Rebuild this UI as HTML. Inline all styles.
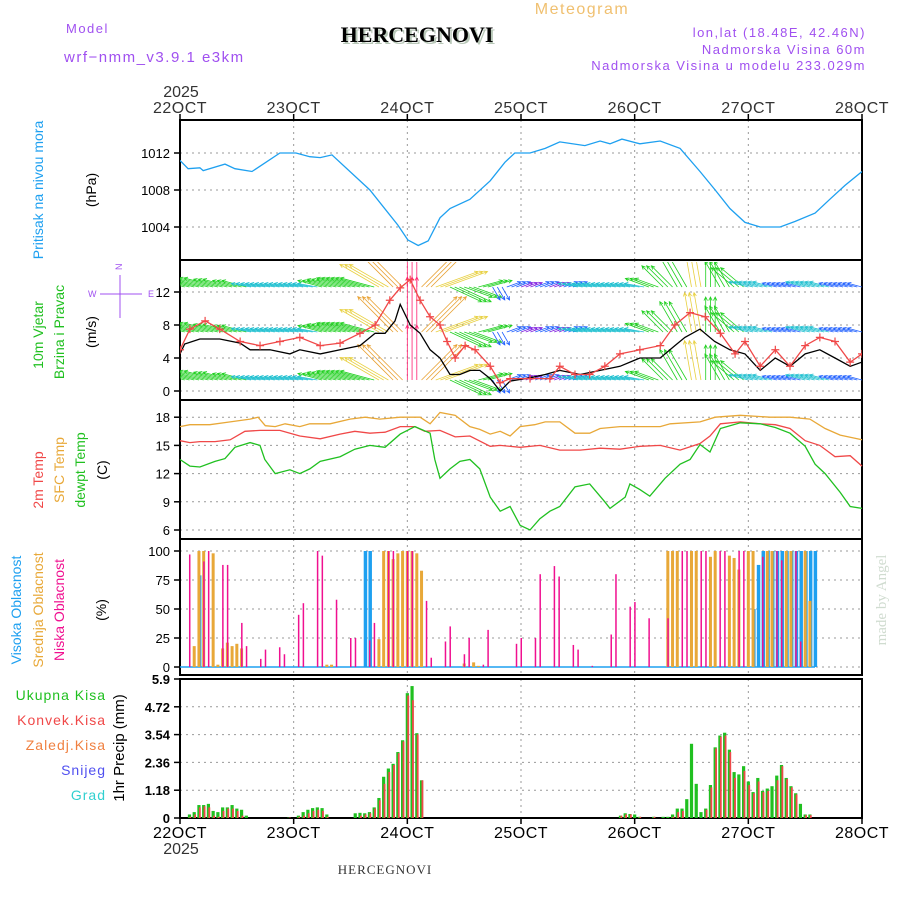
<!DOCTYPE html>
<html><head><meta charset="utf-8"><title>Meteogram HERCEGNOVI</title>
<style>
html,body{margin:0;padding:0;background:#fff;}
svg{display:block;font-family:"Liberation Sans",sans-serif;}
.t{font-size:13px;letter-spacing:1.5px;}
.tk{font-size:13px;fill:#000;}
</style></head>
<body>
<svg id="chart" width="900" height="900" viewBox="0 0 900 900" xmlns="http://www.w3.org/2000/svg">
<defs>
<clipPath id="cw"><rect x="180" y="262" width="682" height="138"/></clipPath>
<clipPath id="cp"><rect x="180" y="120" width="682" height="140"/></clipPath>
</defs>
<g>
<text class="t" x="66" y="33" fill="#a050f0">Model</text>
<text class="t" x="64" y="62" fill="#a050f0" style="font-size:15px">wrf−nmm_v3.9.1 e3km</text>
<text x="419" y="44" text-anchor="middle" fill="#b8c8b8" style="font-family:'Liberation Serif',serif;font-weight:bold;font-size:22px">HERCEGNOVI</text>
<text x="417" y="42" text-anchor="middle" fill="#000" style="font-family:'Liberation Serif',serif;font-weight:bold;font-size:22px">HERCEGNOVI</text>
<text class="t" x="582" y="14" text-anchor="middle" fill="#f0c070" style="font-size:16px">Meteogram</text>
<text class="t" x="866" y="37" text-anchor="end" fill="#a050f0">lon,lat (18.48E, 42.46N)</text>
<text class="t" x="866" y="54" text-anchor="end" fill="#a050f0">Nadmorska Visina 60m</text>
<text class="t" x="866" y="70" text-anchor="end" fill="#a050f0">Nadmorska Visina u modelu 233.029m</text>
</g>
<g style="font-size:14px">
<text transform="translate(43,190) rotate(-90)" text-anchor="middle" fill="#1ea0f0">Pritisak na nivou mora</text>
<text transform="translate(96,190) rotate(-90)" text-anchor="middle" fill="#000">(hPa)</text>
<text transform="translate(43,335) rotate(-90)" text-anchor="middle" fill="#20c020">10m Vjetar</text>
<text transform="translate(64,332) rotate(-90)" text-anchor="middle" fill="#20c020">Brzina i Pravac</text>
<text transform="translate(96,332) rotate(-90)" text-anchor="middle" fill="#000">(m/s)</text>
<text transform="translate(43,480) rotate(-90)" text-anchor="middle" fill="#f04848">2m Temp</text>
<text transform="translate(64,470) rotate(-90)" text-anchor="middle" fill="#e8a838">SFC Temp</text>
<text transform="translate(85,470) rotate(-90)" text-anchor="middle" fill="#20c020">dewpt Temp</text>
<text transform="translate(107,470) rotate(-90)" text-anchor="middle" fill="#000">(C)</text>
<text transform="translate(21,610) rotate(-90)" text-anchor="middle" fill="#1ea0f0">Visoka Oblacnost</text>
<text transform="translate(43,610) rotate(-90)" text-anchor="middle" fill="#e8a838">Srednja Oblacnost</text>
<text transform="translate(64,610) rotate(-90)" text-anchor="middle" fill="#f01090">Niska Oblacnost</text>
<text transform="translate(106,610) rotate(-90)" text-anchor="middle" fill="#000">(%)</text>
<text transform="translate(124,748) rotate(-90)" text-anchor="middle" fill="#000" style="font-size:15px">1hr Precip (mm)</text>
<g style="font-size:14px;letter-spacing:1px" text-anchor="end">
<text x="106" y="700" fill="#20c020">Ukupna Kisa</text>
<text x="106" y="725" fill="#f04848">Konvek.Kisa</text>
<text x="106" y="750" fill="#f08040">Zaledj.Kisa</text>
<text x="106" y="775" fill="#5050f0">Snijeg</text>
<text x="106" y="800" fill="#30d0d0">Grad</text>
</g>
<g fill="#a050f0" stroke="#a050f0" style="font-size:9px">
<text x="122" y="270" stroke="none" transform="rotate(-90 122 270)">N</text>
<text x="88" y="297" stroke="none">W</text>
<text x="148" y="297" stroke="none">E</text>
<line x1="100" y1="294" x2="142" y2="294" stroke-width="1"/>
<line x1="120" y1="275" x2="120" y2="318" stroke-width="1"/>
</g>
<text transform="translate(886,600) rotate(-90)" text-anchor="middle" fill="#d0dcd0" style="font-family:'Liberation Serif',serif;font-size:15px">made by Angel</text>
<text x="385" y="874" text-anchor="middle" fill="#333" style="font-family:'Liberation Serif',serif;font-size:13px;letter-spacing:1px">HERCEGNOVI</text>
</g>
<g id="plots"></g>
</svg>
<script>
// ---- data (hours from 22 Oct 00 UTC) ----
const dayLabels=["22OCT","23OCT","24OCT","25OCT","26OCT","27OCT","28OCT"];
const pressTicks=[1004,1008,1012];
const windTicks=[0,4,8,12];
const tempTicks=[6,9,12,15,18];
const cloudTicks=[0,25,50,75,100];
const precipTicks=[0,1.18,2.36,3.54,4.72,5.9];

const pressHours=[0,1.7,4.2,4.9,9.5,11.6,15.2,21.1,24.5,27.4,29.6,32.1,40.1,46,48.1,50.3,52.4,54.9,57,61.2,65.5,68.6,70.7,73.9,77.1,80.2,85.5,88.7,90.8,93.3,97.1,101.4,105.6,109.8,113,116.1,119.3,122.5,126.7,129.9,134.1,137.2,140.4,144];
const pressVals=[1011.2,1010.3,1010.4,1010.1,1010.8,1010.3,1010.0,1012,1012,1011.6,1011.5,1011.8,1008,1004.2,1002.6,1002.0,1002.5,1005,1006,1007,1009,1011,1012,1012,1012.5,1013.2,1012.8,1013.3,1013,1013.5,1013,1013.3,1012.5,1010,1008,1006,1004.5,1004,1004,1004.6,1005.5,1007,1008.5,1010];

const gustHours=[0,2.1,5.3,8.4,12.7,16.9,21.1,25.3,29.6,33.8,38,41.2,44.3,46.5,48.6,50.7,52.8,54.9,56.4,58.1,60.2,62.3,65.5,67.6,69.7,73.9,78.1,80.2,83.4,86.5,89.7,92.9,97.1,101.4,104.5,107.7,110.9,114.1,117.2,119.3,122.5,125.7,128.8,132,135.1,138.3,141.5,144];
const gustVals=[5,7.5,8.5,7.5,6,5.5,6,6.5,5.5,5.8,7,8,11,12.5,13.5,11,9,8,6,4,5.5,5,3,1,1.5,1.5,1.5,3,2,2,3,4.5,5,5.5,8,9.5,9,7,4.5,6,3,5,3,5.5,6.5,6,3.5,4.5];
const speedHours=[0,1,4.2,8.4,12.7,14.8,19,23.2,25.3,29.6,33.8,38,41.2,43.3,45.4,46.5,48.6,50.7,52.8,54.9,57,59.1,61.2,63.3,65.5,67.6,69.7,73.9,77.1,80.2,84.5,88.7,92.9,97.1,101.4,104.5,106.6,109.8,112.9,116.1,119.3,122.5,125.7,128.8,132,135.1,138.3,141.5,144];
const speedVals=[4.5,5.7,6.3,6.3,5.8,5,5,4.5,5,4.5,5,5.5,7,7,8.5,10.5,8,7,5,4,2,2,2.5,2.5,1.5,0,1.2,1.6,2,2.5,2,2.5,3,4,4,5.5,6.5,7.5,6,5,4.5,2.5,4,3,4.5,5,4,3,3.5];

const windHours=[0,3,6,9,12,15,18,21,24,27,30,33,36,39,42,45,48,51,54,57,60,63,66,69,72,75,78,81,84,87,90,93,96,99,102,105,108,111,114,117,120,123,126,129,132,135,138,141,144];
const windDir=[165,165,165,165,165,170,170,170,170,170,165,165,165,165,150,135,90,45,20,-25,-20,15,-60,20,20,20,20,20,170,170,170,170,170,160,135,120,100,90,120,140,165,165,165,165,165,165,165,165,165];
const windSpd=[7,7,7,6,5,4,4,4,4,4,5,6,7,7,9,10,11,10,9,7,6,5,3,3,2.5,3,2.5,3,4,4,4,4,4,5,6,7,8,7,6,6,4,4,3,3,4,4,3,3,3];

const tHours=[0,2.1,4.2,7.4,10.6,13.7,16.9,21.1,25.3,29.6,33.8,36.9,40.1,43.3,46.5,49.6,51.7,54.9,58.1,61.2,65.5,67.6,71.8,76,80.2,84.5,88.7,92.9,97.1,101.4,105.6,109.8,111.9,114.1,118.3,122.5,125.7,128.8,132,135.1,138.3,141.5,144];
const temp2m=[15.5,15.3,15.4,15.4,15.6,16.5,16.6,16.6,16,15.7,16.2,16.5,16.3,16.4,17,17,16.5,16.6,15.9,16,14.9,15,14.8,15,14.5,14.5,14.7,14.6,14.9,15,14.5,15.2,16,17.3,17.5,17.3,17.2,16.8,15.5,15,13.8,13.9,12.8];
const sfcHours=[0,2.1,6.3,10.6,14.8,16.5,18,20.1,22.2,25.3,27.4,31.7,35.9,39.1,42.2,46.5,50.7,52.8,54.9,58.1,61.2,63.3,65.5,67.6,69.7,71.8,74.9,77.1,80.2,83.4,86.5,88.7,92.9,97.1,101.4,103.5,109.8,113,118.3,124.6,128.8,133,136.2,139.4,144];
const sfcTemp=[17,17.2,17.2,17.5,17.8,18,17.1,17,17.3,17,17.3,17.3,17.8,18,17.8,18,18,17.3,18.5,18.2,17,16.7,16.2,16.5,16,17,17.2,17.5,17.5,16.3,16.3,16.8,17,17,17,17.3,17.5,18,18.2,18,18,17.8,16.8,16.1,15.6];
const dewHours=[0,2.1,4.2,7.4,9.5,11.6,14.8,16.9,17.9,20.1,23.2,25.3,27.4,29.6,33.8,36.9,40.1,43.3,46.5,49.6,52.8,53.8,54.9,57,59.1,61.2,63.3,65.5,67.6,69.7,71.8,73.9,76,78.1,80.2,83.4,86.5,89.7,90.8,94,95,97.1,99.2,102.4,105.6,107.7,109.8,111.9,114.1,118.3,122.5,125.7,128.8,132,134.1,136.2,139.4,141.5,144];
const dewTemp=[13.5,12.8,12.7,13.3,13.6,14.8,15.3,15,13.5,12,12.4,12,12.5,13.3,13.8,14.6,15,14.8,16.2,17,16.3,13.5,11.5,12.5,13.3,13.5,12.5,9.5,8,8.5,6.5,6,7.2,8,8.5,10.6,10.9,9,8.3,9.5,10.9,10.3,9.6,11.5,13,13.5,15.1,14.3,16.8,17.4,17.3,16.9,16.3,14.9,13,12,10,8.5,8.3];

const lowHours=[2,5,6,9,10,13,14,17,18,21,22,25,26,29,30,33,36,37,40,41,44,45,48,49,52,53,56,57,60,61,64,65,71,72,75,76,79,80,83,84,87,91,92,95,96,99,103,106,107,110,111,114,115,118,119,123,126,127,130,131];
const lowVals=[97,91,100,88,88,38,18,7,15,17,11,45,55,100,96,58,25,25,23,38,100,100,100,100,57,8,22,35,11,25,2,32,20,25,25,80,87,78,19,15,1,28,80,52,56,42,42,100,100,100,100,100,100,100,100,95,100,92,100,22];
const midHours=[3,4,5,7,8,9,10,11,12,13,31,32,42,43,44,45,46,47,48,49,50,51,60,62,63,103,104,105,108,109,112,113,116,117,118,120,121,124,125,128,129,132,133];
const midVals=[18,100,100,98,2,16,21,18,20,16,2,2,24,100,100,93,98,100,100,100,98,83,3,4,1,100,100,100,100,100,95,100,96,94,84,100,100,100,100,100,100,100,57];
const highHours=[4,39,40,121,122,123,124,125,126,127,128,129,130,131,132,133,134];
const highVals=[79,100,100,50,88,100,100,100,100,100,100,100,100,100,100,100,100];

const precipHours=[2,3,4,5,6,7,8,9,10,11,12,13,14,23,25,26,27,28,29,30,31,37,38,39,40,41,42,43,44,45,46,47,48,49,50,51,93,94,95,96,97,100,102,103,104,105,106,107,108,109,110,111,112,113,114,115,116,117,118,119,120,121,122,123,124,125,126,127,128,129,130,131,132,133];
const totalPrecip=[0.15,0.25,0.55,0.55,0.6,0.3,0.25,0.45,0.45,0.55,0.4,0.35,0.1,0.02,0.1,0.25,0.35,0.42,0.45,0.42,0.15,0.2,0.22,0.2,0.25,0.45,0.85,1.75,2.1,2.3,2.8,3.3,5.3,5.6,3.6,1.6,0.1,0.2,0.17,0.15,0.05,0.05,0.05,0.05,0.15,0.4,0.4,0.8,3.15,1.45,0.25,0.4,1.4,3.0,3.5,3.62,2.9,1.95,1.85,2.2,1.55,1.1,1.7,1.15,1.25,1.35,1.8,2.25,1.7,1.35,1.05,0.6,0.15,0.15];
const convPrecip=[0.05,0.15,0.45,0.5,0.45,0.1,0.05,0.3,0.4,0.4,0.3,0.1,0,0.02,0.05,0.1,0.2,0.3,0.35,0.3,0.05,0,0.1,0.15,0.2,0.4,0.75,1.45,1.95,2.25,2.75,3.25,5.2,5.0,3.55,1.6,0.1,0.15,0.15,0,0.05,0.05,0,0,0.05,0.25,0.3,0,0,0,0,0.35,1.3,2.95,3.45,3.5,2.8,1.7,0,2.0,1.4,1.05,1.55,1.1,1.15,0,1.6,2.2,1.65,1.3,1.0,0,0.12,0.12];

// ---- layout helpers ----
const X0=180,X1=862;
const xh=h=>X0+h*(X1-X0)/144;
const yP=v=>153+(1012-v)*9.25;
const yW=v=>391-v*8.25;
const yT=v=>530-(v-6)*9.4;
const yC=v=>667-v*1.16;
const yR=v=>818-v*(139/5.9);
const NS="http://www.w3.org/2000/svg";
const root=document.getElementById('plots');
function mk(tag,attrs,parent){const e=document.createElementNS(NS,tag);for(const k in attrs)e.setAttribute(k,attrs[k]);(parent||root).appendChild(e);return e;}

const panels=[{n:'pressure',y0:120,y1:260,ticks:pressTicks,f:yP},{n:'wind',y0:260,y1:400,ticks:windTicks,f:yW},{n:'temperature',y0:400,y1:539,ticks:tempTicks,f:yT},{n:'cloud',y0:539,y1:675,ticks:cloudTicks,f:yC},{n:'precip',y0:679,y1:818,ticks:precipTicks,f:yR}];
panels.forEach(p=>{
  const g=mk('g',{});
  
  
  for(let d=1;d<6;d++){const l=mk('line',{x1:xh(d*24),x2:xh(d*24),y1:p.y0,y2:p.y1,stroke:'#999','stroke-dasharray':'2,4','stroke-width':1},g);
    }
  p.ticks.forEach(t=>{const y=p.f(t);
    const l=mk('line',{x1:X0,x2:X1,y1:y,y2:y,stroke:'#999','stroke-dasharray':'2,4','stroke-width':1},g);
    
    mk('line',{x1:X0-6,x2:X0,y1:y,y2:y,stroke:'#000','stroke-width':1.5},g);
    const tx=mk('text',{x:X0-10,y:y+5,'text-anchor':'end',class:'tk',style:p.n==='precip'?'font-weight:bold':''},g);
    tx.textContent=String(t);
    
  });
  const r=mk('rect',{x:X0,y:p.y0,width:X1-X0,height:p.y1-p.y0,fill:'none',stroke:'#000','stroke-width':2},g);
  
});
// x tick labels
dayLabels.forEach((d,i)=>{
  [[113,120],[838,818]].forEach(([ty,ay])=>{
    const t=mk('text',{x:xh(i*24),y:ty,'text-anchor':'middle',style:'font-size:16px;letter-spacing:0.5px',fill:ty>800?'#000':'#333'});
    t.textContent=d;
    mk('line',{x1:xh(i*24),x2:xh(i*24),y1:ay-(ty>800?-1:6),y2:ay+(ty>800?6:0),stroke:'#000','stroke-width':1.5});
  });
});
[[97],[854]].forEach(([y])=>{const t=mk('text',{x:181,y:y,'text-anchor':'middle',style:'font-size:16px',fill:'#333'});t.textContent='2025';
  });

function line(hs,vs,f,color,name,clip){
  const d=hs.map((h,i)=>(i?'L':'M')+xh(h).toFixed(1)+','+f(vs[i]).toFixed(1)).join('');
  const e=mk('path',{d:d,fill:'none',stroke:color,'stroke-width':1.3});
  if(clip)e.setAttribute('clip-path',clip);
  
  return e;
}
line(pressHours,pressVals,yP,'#1ea0f0','pressure-line','url(#cp)');

// wind arrows (one arrow per hour within each 3-hour record)
function wcol(s){return s<3?'#8020e0':s<4?'#2060ff':s<5?'#20c0d0':s<8?'#20d020':s<10?'#e8d040':s<11?'#e8a030':'#ff2070';}
const wg=mk('g',{'clip-path':'url(#cw)'});

[287,332,380].forEach(by=>{
  windHours.forEach((h,i)=>{
    for(let k=0;k<3;k++){
      if(h+k>144)break;
      const a=windDir[i]*Math.PI/180,L=windSpd[i]*5,x=xh(h+k);
      const x2=x+L*Math.cos(a),y2=by-L*Math.sin(a),c=wcol(windSpd[i]);
      const ar=mk('path',{d:`M${x},${by}L${x2},${y2}M${x2-4*Math.cos(a-0.45)},${y2+4*Math.sin(a-0.45)}L${x2},${y2}L${x2-4*Math.cos(a+0.45)},${y2+4*Math.sin(a+0.45)}`,stroke:c,fill:'none','stroke-width':0.8},wg);
      
    }
  });
});
line(speedHours,speedVals,yW,'#000','wind-speed-line','url(#cw)');
line(gustHours,gustVals,yW,'#f04848','wind-gust-line','url(#cw)');
gustHours.forEach((h,i)=>{const x=xh(h),y=yW(gustVals[i]);
  const m=mk('path',{d:`M${x-4},${y}h8M${x},${y-4}v8`,stroke:'#f04848','stroke-width':1.2,'clip-path':'url(#cw)'});
  });

line(sfcHours,sfcTemp,yT,'#e8a838','sfc-temp-line');
line(tHours,temp2m,yT,'#f04848','temp-2m-line');
line(dewHours,dewTemp,yT,'#20c020','dewpoint-line');

// clouds
const cb=mk('line',{x1:X0,x2:815,y1:667,y2:667,stroke:'#1ea0f0','stroke-width':1.5});

function bars(hs,vs,f,color,w,off,name){
  hs.forEach((h,i)=>{if(vs[i]<=0)return;const y=f(vs[i]);
    const r=mk('rect',{x:xh(h)+off,y:y,width:w,height:f(0)-y,fill:color});
    });
}
bars(highHours,highVals,yC,'#1ea0f0',3.5,-1,'high-cloud-bar');
bars(midHours,midVals,yC,'#e8a838',3,-1.5,'mid-cloud-bar');
bars(lowHours,lowVals,yC,'#f01090',1.5,-0.5,'low-cloud-bar');
bars(precipHours,totalPrecip,yR,'#20c020',3.2,-1.6,'total-precip-bar');
bars(precipHours,convPrecip,yR,'#f04848',1.8,0,'convective-precip-bar');
</script>
</body></html>
